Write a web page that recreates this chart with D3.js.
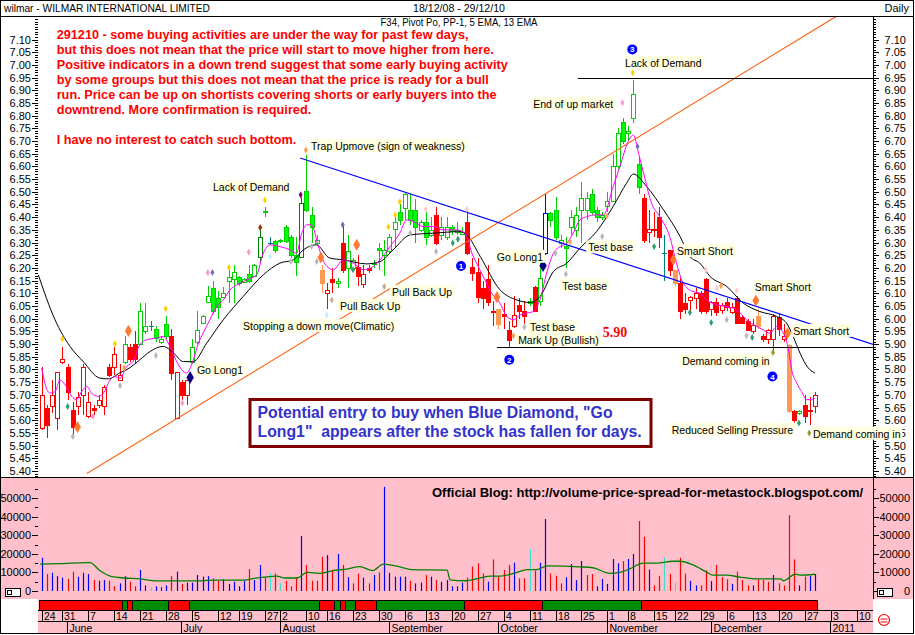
<!DOCTYPE html>
<html><head><meta charset="utf-8">
<script src="https://cdnjs.cloudflare.com/ajax/libs/d3/7.8.5/d3.min.js"></script>
<style>
body{margin:0;background:#fff;}
svg{display:block;font-family:"Liberation Sans",Arial,sans-serif;}
</style></head><body>
<svg id="chart" width="915" height="635"></svg>
<script>
// ================= DATA =================
const openP = [5.57,5.65,5.655,5.61,5.83,5.81,5.64,5.655,5.70,5.615,
5.65,5.66,5.655,5.81,5.81,5.76,5.83,5.89,5.90,5.90,
5.95,5.97,5.96,5.91,5.98,5.93,5.61,5.75,5.70,5.83,
5.91,5.985,6.065,6.12,6.08,6.085,6.15,6.155,6.165,6.145,
6.175,6.17,6.245,6.42,6.30,6.305,6.305,6.36,6.32,6.25,
6.245,6.505,6.41,6.30,6.19,6.10,6.155,6.14,6.30,6.20,
6.20,6.205,6.135,6.20,6.215,6.28,6.25,6.265,6.355,6.42,
6.435,6.43,6.43,6.35,6.38,6.33,6.41,6.33,6.32,6.36,
6.34,6.335,6.38,6.205,6.185,6.12,6.155,6.03,6.04,6.02,
5.955,5.97,6.055,6.03,6.06,6.125,6.07,6.26,6.415,6.43,
6.30,6.285,6.36,6.35,6.43,6.43,6.49,6.43,6.40,6.445,
6.465,6.60,6.775,6.73,6.79,6.61,6.475,6.34,6.355,6.40,
6.26,6.27,6.19,6.14,6.06,6.075,6.08,6.10,6.155,6.04,
6.065,6.035,6.065,6.025,6.08,6.005,5.99,5.95,6.01,5.93,
5.92,5.92,6.005,5.92,5.895,5.635,5.63,5.66,5.635,5.655];
const highP = [5.81,5.66,5.76,5.79,5.89,5.82,5.67,5.71,5.82,5.71,
5.66,5.70,5.74,5.82,5.89,5.82,5.93,5.90,5.95,6.06,
6.06,5.99,5.97,5.93,6.01,5.96,5.79,5.76,5.76,5.92,
6.03,6.015,6.13,6.15,6.11,6.125,6.19,6.21,6.17,6.16,
6.21,6.215,6.36,6.44,6.32,6.31,6.315,6.37,6.33,6.32,
6.48,6.645,6.44,6.33,6.21,6.14,6.20,6.16,6.37,6.33,
6.24,6.25,6.21,6.21,6.23,6.30,6.31,6.335,6.40,6.45,
6.50,6.49,6.47,6.39,6.42,6.40,6.44,6.40,6.40,6.37,
6.38,6.36,6.43,6.24,6.24,6.15,6.21,6.07,6.04,6.06,
5.99,6.09,6.08,6.07,6.08,6.13,6.22,6.49,6.42,6.48,
6.33,6.32,6.43,6.44,6.54,6.50,6.51,6.44,6.42,6.50,
6.65,6.75,6.79,6.76,6.94,6.64,6.49,6.43,6.42,6.44,
6.33,6.27,6.19,6.16,6.10,6.09,6.12,6.11,6.16,6.07,
6.08,6.06,6.08,6.06,6.09,6.01,6.00,6.00,6.04,5.94,
5.96,6.02,6.02,5.98,5.90,5.64,5.64,5.70,5.69,5.71];
const lowP = [5.56,5.53,5.63,5.56,5.82,5.68,5.53,5.62,5.62,5.61,
5.62,5.65,5.62,5.77,5.78,5.76,5.82,5.83,5.82,5.90,
5.94,5.95,5.91,5.90,5.92,5.76,5.61,5.66,5.66,5.82,
5.90,5.98,6.06,6.02,6.00,6.08,6.06,6.06,6.13,6.14,
6.14,6.165,6.22,6.40,6.29,6.26,6.30,6.30,6.24,6.17,
6.24,6.42,6.30,6.29,6.10,6.04,6.10,6.12,6.18,6.12,
6.19,6.13,6.12,6.18,6.20,6.19,6.17,6.26,6.28,6.37,
6.39,6.37,6.30,6.34,6.29,6.32,6.29,6.31,6.31,6.33,
6.33,6.33,6.25,6.15,6.06,6.04,6.05,5.97,5.96,5.96,
5.89,5.965,6.00,5.98,6.05,6.025,6.05,6.25,6.36,6.31,
6.28,6.20,6.33,6.32,6.30,6.39,6.41,6.38,6.39,6.42,
6.46,6.59,6.69,6.70,6.77,6.49,6.30,6.30,6.32,6.28,
6.15,6.17,6.13,6.00,6.02,6.02,6.04,6.02,6.02,6.01,
6.01,6.02,6.03,6.02,5.98,5.98,5.95,5.94,5.96,5.91,
5.90,5.86,5.93,5.91,5.63,5.59,5.62,5.59,5.58,5.63];
const closeP = [5.70,5.58,5.70,5.79,5.84,5.71,5.575,5.69,5.81,5.67,
5.64,5.68,5.73,5.78,5.86,5.78,5.90,5.84,5.84,6.03,
5.97,5.97,5.925,5.92,5.93,5.785,5.79,5.70,5.76,5.89,
5.955,6.01,6.09,6.03,6.045,6.10,6.165,6.185,6.14,6.155,
6.15,6.21,6.32,6.425,6.30,6.27,6.31,6.305,6.25,6.225,
6.455,6.43,6.36,6.31,6.14,6.115,6.145,6.15,6.19,6.265,
6.23,6.17,6.175,6.19,6.22,6.27,6.27,6.32,6.38,6.39,
6.49,6.39,6.36,6.38,6.32,6.35,6.30,6.36,6.36,6.345,
6.35,6.34,6.26,6.18,6.085,6.08,6.065,6.025,5.98,6.01,
5.915,6.015,6.03,6.01,6.07,6.03,6.16,6.415,6.39,6.32,
6.31,6.28,6.40,6.41,6.475,6.475,6.42,6.40,6.41,6.465,
6.60,6.73,6.70,6.74,6.885,6.52,6.31,6.355,6.35,6.32,
6.26,6.19,6.14,6.03,6.04,6.085,6.10,6.03,6.03,6.065,
6.025,6.055,6.045,6.045,5.985,5.985,5.955,5.975,5.97,5.92,
5.955,6.01,5.96,5.93,5.635,5.60,5.635,5.615,5.64,5.70];
// bar signal class: r=down(red) g=up(green) d=dark green o=orange b=blue c=teal doji
const barClass = ("rrrrrrrrrrrrrrrr" + "g" + "rr" + "gg" + "c" + "ggg" + "rrrr" +
  "ggggggggggggg" + "d" + "g" + "c" + "ggggg" + "d" + "ggg" + "o" + "rr" + "g" + "r" + "gg" + "rrr" +
  "gggggggggggg" + "r" + "ggggg" + "rrrrrr" + "o" + "rrrrr" + "g" + "r" + "g" + "b" +
  "gggggggggggggggggg" + "rrrr" + "c" + "r" + "o" + "rrrrrrrrrrrrrrr" + "o" + "rrrrr" + "o" + "r" + "g" + "rrr").split("");

const volume = [17900,9100,9800,8000,7200,6500,10400,7700,9800,9100,
5900,5500,5900,5500,2500,4100,8000,5000,2500,11300,
3000,2000,2500,2000,3000,8000,10400,3800,4500,4500,
8600,7700,8000,6800,5500,6300,3800,5000,2500,5500,
11800,5900,14000,7400,9700,9400,4100,5500,2500,7400,
29600,14000,5500,5500,18400,19300,11300,19900,14000,7400,
4100,9400,7200,4100,8600,10000,56000,9800,7700,7700,
7700,5500,4100,4500,8600,7700,5900,5000,5900,2500,
2500,4500,7200,13100,14900,9400,5000,17000,7700,11300,
14000,15200,6800,6800,22600,11000,15200,38700,9400,8200,
4100,7400,14500,5900,16100,8600,9100,2500,6500,3800,
17200,14900,16100,17200,19900,37600,29200,11500,3000,8000,
18100,9100,4500,17900,9400,5500,3000,3000,11000,5300,
14000,7400,6300,3800,10400,5900,3000,3000,6300,5900,
5000,8600,4100,3000,40800,17000,3000,7700,8000,9100];
const volClass = ("brbbbrrbbb"+"rbbrrbbrrb"+"bcbbbrbrbb"+"bbbrrbbbbb"+"rbbrcrcrrr"+
  "brrrrbrbrb"+"rrbrbrbbbb"+"brbbrbrbbb"+"bbrrrrbrrr"+"rbrrcrbbrr"+
  "rbbbbrrbbb"+"bbrbbrrbrr"+"crcrrbbrrb"+"rrrbrrrbrr"+"rbrrrrbrbb").split("");

// moving averages: [day index, value]
const ema5 = [[0,5.806],[0.6,5.746],[1.6,5.707],[2.6,5.713],[3.5,5.759],[4.5,5.740],[5.8,5.694],[6.7,5.681],[7.7,5.713],[8.7,5.733],[9.6,5.707],[10.9,5.694],[11.9,5.707],[13.2,5.759],[14.1,5.772],[15.1,5.766],[16.4,5.812],[17.6,5.831],[18.9,5.897],[20.2,5.917],[22.2,5.924],[23.4,5.930],[24.7,5.891],[26.0,5.831],[27.0,5.799],[27.9,5.786],[29.1,5.831],[30.2,5.904],[31.1,5.943],[32.4,5.996],[33.7,6.048],[35.0,6.074],[36.3,6.114],[37.6,6.133],[39.5,6.153],[41.4,6.173],[42.7,6.258],[44.0,6.291],[45.9,6.284],[47.9,6.271],[49.1,6.258],[50.1,6.337],[51.1,6.37],[52.0,6.37],[53.3,6.285],[54.6,6.215],[56.2,6.193],[58.1,6.232],[60.0,6.219],[62.0,6.193],[63.3,6.199],[65.2,6.232],[67.1,6.284],[69.0,6.337],[70.3,6.389],[71.6,6.383],[73.5,6.363],[75.5,6.363],[77.4,6.350],[80.0,6.350],[81.6,6.337],[82.9,6.258],[84.1,6.206],[85.4,6.153],[86.7,6.101],[88.3,6.061],[89.6,6.009],[90.9,5.996],[92.2,6.015],[93.4,6.022],[94.7,6.028],[96.0,6.074],[97.3,6.180],[98.6,6.258],[99.9,6.284],[101.2,6.298],[102.4,6.337],[103.7,6.389],[105.0,6.402],[106.9,6.409],[108.2,6.409],[110.1,6.520],[111.4,6.599],[113.0,6.698],[114.0,6.724],[115.0,6.652],[116.2,6.554],[117.5,6.455],[119.1,6.402],[121.0,6.324],[122.3,6.22],[123.6,6.140],[125.5,6.107],[126.8,6.101],[128.1,6.074],[130.1,6.055],[132.0,6.048],[133.9,6.035],[135.8,5.996],[137.8,5.969],[139.0,5.956],[140.3,5.943],[141.6,5.969],[142.9,5.943],[143.9,5.878],[144.5,5.799],[145.5,5.746],[146.4,5.713],[147.4,5.681],[148.4,5.681],[149.0,5.687]];
const ema13 = [[-0.65,6.173],[2.56,5.996],[5.45,5.891],[8.0,5.831],[11.2,5.766],[12.8,5.763],[15.1,5.787],[17.0,5.807],[18.9,5.838],[20.9,5.871],[23.4,5.891],[25.4,5.865],[27.3,5.831],[29.2,5.831],[31.8,5.904],[35.0,5.996],[38.8,6.087],[42.7,6.173],[45.9,6.219],[48.5,6.232],[50.4,6.271],[52.9,6.291],[55.5,6.239],[58.1,6.232],[62.6,6.216],[65.2,6.225],[67.7,6.271],[71.0,6.330],[75.5,6.337],[80.6,6.343],[81.9,6.330],[84.5,6.245],[88.3,6.114],[91.5,6.074],[94.1,6.064],[96.0,6.087],[98.6,6.186],[101.2,6.219],[103.7,6.278],[106.9,6.343],[110.1,6.442],[112.7,6.534],[114.0,6.570],[116.6,6.520],[119.8,6.429],[123.0,6.324],[124.9,6.245],[126.8,6.219],[128.8,6.166],[132.0,6.127],[135.2,6.061],[138.4,6.028],[141.6,6.009],[143.5,5.983],[144.8,5.930],[146.1,5.865],[147.7,5.806],[149.0,5.786]];
const volMA = [[-0.3,14500],[3.5,14700],[8.7,15300],[9.3,15300],[11.2,11000],[13.5,7700],[16.0,7000],[18.9,6500],[22.2,5400],[25.3,5400],[29.2,5400],[33.4,5800],[38.8,5800],[41.5,7000],[45.3,8000],[46.9,7000],[49.2,7000],[51.1,10000],[53.6,9500],[56.1,11000],[58.8,11800],[61.3,13100],[63.8,11000],[65.8,14500],[69.0,13000],[71.5,11500],[78.1,11200],[78.7,6000],[81.6,5500],[84.5,7000],[86.4,8000],[88.3,8000],[91.6,10000],[93.5,11500],[95.4,11500],[97.4,13500],[103.7,13000],[106.2,12500],[109.5,9500],[111.4,10000],[113.4,12000],[115.9,15000],[118.6,15000],[121.6,16000],[123.0,16000],[125.5,14000],[128.2,10000],[129.3,8500],[132.0,8500],[134.5,7500],[137.8,6500],[142.3,6500],[142.9,5500],[145.2,9000],[146.1,8500],[149.0,9000]];

// trend lines [day index, price]
const trendUp = [[8.7,5.39],[153.0,7.19]];
const trendDown = [[49.8,6.633],[160.2,5.899]];
const levelLines = [[103.3,6.95],[87.7,5.89]];

// trend strip segments [startIndex, endIndex, class]
const stripSeg = [[0,16,"r"],[16,17,"g"],[17,18,"r"],[18,25,"g"],[25,29,"r"],[29,54,"g"],[54,57,"r"],[57,58,"g"],[58,59,"r"],[59,61,"g"],[61,65,"r"],[65,82,"g"],[82,97,"r"],[97,116,"g"],[116,150,"r"]];

// date axis
const weekLabels = ["24","31","7","14","21","28","5","12","19","27","2","10","16","23","30","6","13","20","27","4","11","18","25","1","8","15","22","29","6","13","20","27","3","10"];
const weekIdx = [0,4,9,14,19,24,29,34,38,43,46,51,55,60,65,70,74,79,84,89,94,99,104,109,113,118,122,127,132,137,142,147,152,157];
const monthLabels = ["June","July","August","September","October","November","December","2011"];
const monthIdx = [5,27,46,67,88,109,129,152];

// annotations [text, left day index, centre price]
const tags = [["Lack of Demand",33.0,6.517],["Trap Upmove (sign of weakness)",51.9,6.68],["Go Long1",29.9,5.799],["Stopping a down move(Climatic)",38.8,5.972],["Pull Back Up",57.5,6.05],["Pull Back Up",67.5,6.106],["Go Long1",87.7,6.244],["Test base",100.3,6.13],["Test base",94.1,5.968],["Mark Up (Bullish)",91.8,5.917],["Test base",105.3,6.281],["End of up market",94.7,6.846],["Lack of Demand",112.4,7.007],["Smart Short",122.4,6.267],["Smart Short",137.4,6.126],["Smart Short",144.8,5.952],["Demand coming in",123.4,5.834],["Reduced Selling Pressure",121.4,5.563],["Demand coming in",148.6,5.547]];
const numberedMarks = [[80.8,6.208,"1"],[90.1,5.838,"2"],[113.8,7.061,"3"],[140.8,5.772,"4"]];
const goLongDiamonds = [[28.6,5.768],[96.6,6.209]];
const signals = [[4.0,5.921,"Y"],[5.0,5.654,"N"],[6.9,5.573,"O"],[6.0,5.536,"G"],[9.9,5.615,"P"],[15.1,5.737,"G"],[15.9,5.806,"o"],[16.7,5.952,"O"],[14.1,5.901,"Y"],[22.0,5.855,"G"],[23.9,6.039,"Y"],[27.1,5.668,"P"],[32.0,6.182,"P"],[32.9,6.182,"S"],[36.1,6.202,"Y"],[39.9,6.262,"P"],[44.0,6.245,"L"],[42.1,6.359,"B"],[43.0,6.468,"Y"],[48.0,6.225,"G"],[49.9,6.488,"U"],[52.0,6.284,"G"],[53.0,6.225,"G"],[53.8,6.241,"O"],[54.9,6.015,"L"],[50.9,6.665,"o"],[55.9,6.074,"T"],[58.0,6.370,"S"],[60.7,6.291,"O"],[60.0,6.193,"N"],[66.0,6.127,"T"],[66.8,6.361,"Y"],[68.1,6.409,"Y"],[69.0,6.461,"Y"],[71.0,6.337,"G"],[74.0,6.431,"K"],[76.0,6.265,"G"],[79.2,6.298,"N"],[80.2,6.313,"N"],[81.9,6.431,"K"],[87.7,6.085,"O"],[90.9,5.933,"o"],[93.0,5.967,"G"],[99.0,6.258,"G"],[101.8,6.303,"o"],[101.0,6.176,"G"],[113.9,6.969,"Y"],[111.9,6.851,"P"],[114.8,6.678,"S"],[108.9,6.405,"o"],[108.0,6.324,"G"],[118.0,6.284,"N"],[121.7,6.232,"O"],[128.0,6.193,"K"],[124.9,6.024,"N"],[130.9,6.130,"o"],[130.1,6.120,"K"],[133.9,6.111,"K"],[129.0,5.985,"N"],[132.0,5.996,"G"],[137.6,6.072,"O"],[135.8,5.933,"G"],[136.9,5.926,"N"],[140.9,5.867,"V"],[143.7,5.943,"O"],[145.9,5.589,"N"],[147.9,5.550,"V"]];

const notes = ["291210 - some buying activities are under the way for past few days,",
"but this does not mean that the price will start to move higher from here.",
"Positive indicators in a down trend suggest that some early buying activity",
"by some groups but this does not mean that the price is ready for a bull",
"run. Price can be up on shortists covering shorts or early buyers into the",
"downtrend. More confirmation is required.",
"",
"I have no interest to catch such bottom."];
const boxLines = ["Potential entry to buy when Blue Diamond, \"Go", "Long1\"  appears after the stock has fallen for days."];
const titleLeft = "wilmar - WILMAR INTERNATIONAL LIMITED";
const titleMid = "18/12/08 - 29/12/10";
const titleRight = "Daily";
const subTitle = "F34, Pivot Po, PP-1, 5 EMA, 13 EMA";
const blogText = "Official Blog: http://volume-price-spread-for-metastock.blogspot.com/";
const supportLabel = "5.90";
const volTicks = [0,10000,20000,30000,40000,50000];

// ================= DRAW =================
const svg = d3.select("#chart");
const L = 38, R = 873, PT = 17, PB = 477, VB = 599;
const x = d3.scaleLinear().domain([0,149]).range([41.7,815]);
const yP = d3.scaleLinear().domain([5.40,7.10]).range([471,39.5]);
const yV = d3.scaleLinear().domain([0,50000]).range([591,498]);

svg.append("rect").attr("width",915).attr("height",635).attr("fill","#fff");
svg.append("rect").attr("x",1).attr("y",PB).attr("width",912).attr("height",VB-PB).attr("fill","#FFC0CB");
svg.append("rect").attr("x",L).attr("y",VB).attr("width",R-L).attr("height",634-VB).attr("fill","#FFC0CB");

const defs = svg.append("defs");
defs.append("clipPath").attr("id","cp").append("rect").attr("x",L).attr("y",PT).attr("width",R-L).attr("height",PB-PT);
defs.append("clipPath").attr("id","cv").append("rect").attr("x",L).attr("y",PB).attr("width",R-L).attr("height",VB-PB);

// header
const hdr = svg.append("g").attr("font-size",11).attr("fill","#000");
hdr.append("text").attr("x",4).attr("y",12).attr("textLength",206).attr("lengthAdjust","spacingAndGlyphs").text(titleLeft);
hdr.append("text").attr("x",459).attr("y",12).attr("text-anchor","middle").attr("textLength",92).attr("lengthAdjust","spacingAndGlyphs").text(titleMid);
hdr.append("text").attr("x",909).attr("y",12).attr("text-anchor","end").text(titleRight);
svg.append("line").attr("x1",0).attr("x2",914).attr("y1",16.5).attr("y2",16.5).attr("stroke","#000");
svg.append("text").attr("x",459).attr("y",26).attr("text-anchor","middle").attr("font-size",10.5).attr("textLength",157).attr("lengthAdjust","spacingAndGlyphs").text(subTitle);

// ---- price axes ----
const majorP = d3.range(0,35).map(k => +(5.40 + k*0.05).toFixed(2));
const minorP = d3.range(0,181).map(k => +(5.38 + k*0.01).toFixed(2)).filter(v => yP(v) > PT && yP(v) < PB);
function ticksAt(g, vals, scale, x0, len, dir) {
  g.selectAll(null).data(vals).enter().append("line")
    .attr("x1", x0).attr("x2", x0 + dir*len)
    .attr("y1", d => Math.round(scale(d)) + 0.5).attr("y2", d => Math.round(scale(d)) + 0.5)
    .attr("stroke","#000").attr("stroke-width",1);
}
const ax = svg.append("g");
ticksAt(ax, minorP, yP, L, 3, -1);
ticksAt(ax, majorP, yP, L, 6, -1);
ticksAt(ax, minorP, yP, R, 3, 1);
ticksAt(ax, majorP, yP, R, 6, 1);
ax.selectAll(null).data(majorP).enter().append("text")
  .attr("x",31).attr("y",d=>yP(d)+4).attr("text-anchor","end").attr("font-size",11).text(d=>d3.format(".2f")(d));
ax.selectAll(null).data(majorP).enter().append("text")
  .attr("x",906).attr("y",d=>yP(d)+4).attr("text-anchor","end").attr("font-size",11).text(d=>d3.format(".2f")(d));
svg.append("line").attr("x1",R+0.5).attr("x2",R+0.5).attr("y1",PT).attr("y2",VB).attr("stroke","#000");

// ---- price panel content ----
const pp = svg.append("g").attr("clip-path","url(#cp)");
const candleCol = {g:["#00FF00","#00D000"], d:["#008000","#008000"], r:["#FF0000","#FF0000"], o:["#FF9A55","#FF9A55"], b:["#0000FF","#0000FF"], c:["#008080","#008080"]};
const idx = d3.range(openP.length);
const cg = pp.append("g").attr("shape-rendering","crispEdges");
idx.forEach(i => {
  const cx = Math.round(x(i)) + 0.5;
  const col = candleCol[barClass[i]];
  cg.append("line").attr("x1",cx).attr("x2",cx).attr("y1",yP(highP[i])).attr("y2",yP(lowP[i])).attr("stroke",col[1]);
  const top = Math.round(yP(Math.max(openP[i],closeP[i])));
  const bot = Math.round(yP(Math.min(openP[i],closeP[i])));
  const h = Math.max(1, bot - top);
  if (barClass[i] === "c") {
    cg.append("line").attr("x1",cx-2.5).attr("x2",cx+2.5).attr("y1",top+0.5).attr("y2",top+0.5).attr("stroke",col[1]);
  } else {
    const hollow = closeP[i] >= openP[i];
    cg.append("rect").attr("x",cx-2).attr("y",top+0.5).attr("width",4).attr("height",h)
      .attr("fill", hollow ? "#fff" : col[0]).attr("stroke", col[1]);
  }
});

const lineP = d3.line().x(d=>x(d[0])).y(d=>yP(d[1]));
pp.append("path").attr("d",lineP.curve(d3.curveMonotoneX)(ema13)).attr("fill","none").attr("stroke","#000").attr("stroke-width",1);
pp.append("path").attr("d",lineP.curve(d3.curveMonotoneX)(ema5)).attr("fill","none").attr("stroke","#FF00FF").attr("stroke-width",1);
const straight = d3.line().x(d=>x(d[0])).y(d=>yP(d[1]));
pp.append("path").attr("d",straight(trendUp)).attr("stroke","#FF6010").attr("stroke-width",1.1).attr("fill","none");
pp.append("path").attr("d",straight(trendDown)).attr("stroke","#0000FF").attr("stroke-width",1.2).attr("fill","none");
levelLines.forEach(l => {
  pp.append("line").attr("x1",x(l[0])).attr("x2",R).attr("y1",Math.round(yP(l[1]))+0.5).attr("y2",Math.round(yP(l[1]))+0.5).attr("stroke","#000").attr("stroke-width",1.2);
});

const sigCol = {Y:"#FFD000",N:"#2E9E6E",O:"#FF7A30",G:"#B8B8B8",P:"#FF99CC",o:"#FFA050",S:"#7070C0",L:"#C0F0FF",B:"#A03000",U:"#800080",T:"#D0AA88",K:"#FFCCCC",V:"#999933"};
pp.selectAll(null).data(signals).enter().append("path")
  .attr("transform",d=>`translate(${x(d[0])},${yP(d[1])})`)
  .attr("d",d=>d3.symbol().type(d3.symbolDiamond).size(d[2]==="O"?42:14)())
  .attr("fill",d=>sigCol[d[2]]);
pp.selectAll(null).data(goLongDiamonds).enter().append("path")
  .attr("transform",d=>`translate(${x(d[0])},${yP(d[1])})`)
  .attr("d",d3.symbol().type(d3.symbolDiamond).size(48)()).attr("fill","#000080");
const nm = pp.selectAll(null).data(numberedMarks).enter().append("g")
  .attr("transform",d=>`translate(${x(d[0])},${yP(d[1])})`);
nm.append("circle").attr("r",5).attr("fill","#0000FF");
nm.append("text").attr("y",3).attr("text-anchor","middle").attr("font-size",8).attr("font-weight","bold").attr("fill","#fff").text(d=>d[2]);

// support label
svg.append("text").attr("x",x(108.1)).attr("y",yP(5.89)-9.5).attr("font-family","'Liberation Serif',serif")
  .attr("font-weight","bold").attr("font-size",14).attr("fill","#FF0000").text(supportLabel);

// notes
const ng = svg.append("g").attr("font-weight","bold").attr("font-size",12.7).attr("fill","#FF0000");
notes.forEach((t,k) => { if (t) ng.append("text").attr("x",56.7).attr("y",38.8 + 15*k).text(t); });

// info box
svg.append("rect").attr("x",250).attr("y",399.5).attr("width",401).attr("height",47).attr("fill","#fff").attr("stroke","#800000").attr("stroke-width",3);
boxLines.forEach((t,k) => svg.append("text").attr("x",257.5).attr("y",417.5 + 19.3*k).attr("font-size",15.8).attr("font-weight","bold")
  .attr("fill","#3333CC").style("white-space","pre").text(t));

// tags
const tg = svg.append("g").attr("font-size",10.5);
tags.forEach(t => {
  const tx = x(t[1]), ty = yP(t[2]);
  const bg = tg.append("rect").attr("fill","#FFFFE1");
  const tt = tg.append("text").attr("x",tx).attr("y",ty+4).attr("fill","#000").text(t[0]);
  const w = tt.node().getComputedTextLength();
  bg.attr("x",tx-2).attr("y",ty-7).attr("width",w+4).attr("height",13);
});

// ---- volume panel ----
svg.append("line").attr("x1",0).attr("x2",914).attr("y1",PB+0.5).attr("y2",PB+0.5).attr("stroke","#000");
const vp = svg.append("g").attr("clip-path","url(#cv)");
const vCol = {r:"#FF0000", b:"#0000FF", c:"#40E0D0"};
vp.selectAll(null).data(idx).enter().append("line")
  .attr("x1",i=>Math.round(x(i))+0.5).attr("x2",i=>Math.round(x(i))+0.5)
  .attr("y1",yV(0)).attr("y2",i=>yV(volume[i])).attr("stroke",i=>vCol[volClass[i]]).attr("stroke-width",1.2);
vp.append("path").attr("d",d3.line().x(d=>x(d[0])).y(d=>yV(d[1])).curve(d3.curveMonotoneX)(volMA))
  .attr("fill","none").attr("stroke","#008000").attr("stroke-width",1.3);
const vMinor = [5000,15000,25000,35000,45000,55000];
ticksAt(ax, volTicks, yV, L, 6, -1);
ticksAt(ax, vMinor, yV, L, 3, -1);
ticksAt(ax, volTicks, yV, R, 6, 1);
ticksAt(ax, vMinor, yV, R, 3, 1);
ax.selectAll(null).data(volTicks).enter().append("text").attr("x",31).attr("y",d=>yV(d)+4).attr("text-anchor","end").attr("font-size",11).text(d=>d);
ax.selectAll(null).data(volTicks).enter().append("text").attr("x",910).attr("y",d=>yV(d)+4).attr("text-anchor","end").attr("font-size",11).text(d=>d);
svg.append("text").attr("x",432).attr("y",497).attr("font-size",13).attr("font-weight","bold").attr("fill","#000").text(blogText);
// scroll icons
[[5,588],[877,588]].forEach(p => {
  const g = svg.append("g").attr("transform",`translate(${p[0]},${p[1]})`);
  g.append("rect").attr("x",0.5).attr("y",0.5).attr("width",15).attr("height",8).attr("fill","#fff").attr("stroke","#000");
  g.append("rect").attr("x",2.5).attr("y",2.5).attr("width",4).attr("height",4).attr("fill","none").attr("stroke","#000");
});

// ---- date strip ----
const stripCol = {r:"#FF0000", g:"#008C00"};
const sg = svg.append("g").attr("shape-rendering","crispEdges");
stripSeg.forEach(s => {
  sg.append("rect").attr("x",x(s[0])-2.6).attr("y",600.5).attr("width",x(s[1])-x(s[0])).attr("height",10)
    .attr("fill",stripCol[s[2]]).attr("stroke","#000");
});
sg.append("line").attr("x1",L).attr("x2",R).attr("y1",610.5).attr("y2",610.5).attr("stroke","#000");
sg.append("line").attr("x1",L).attr("x2",R).attr("y1",621.5).attr("y2",621.5).attr("stroke","#000");
weekIdx.forEach((d,k) => {
  const px = Math.round(x(d))+0.5;
  sg.append("line").attr("x1",px).attr("x2",px).attr("y1",611).attr("y2",621).attr("stroke","#000");
  svg.append("text").attr("x",px+1.5).attr("y",620).attr("font-size",10.5).attr("fill","#000").text(weekLabels[k]);
});
monthIdx.forEach((d,k) => {
  const px = Math.round(x(d)-0.5)+0.5;
  sg.append("line").attr("x1",px).attr("x2",px).attr("y1",622).attr("y2",633).attr("stroke","#000");
  svg.append("text").attr("x",px+2).attr("y",631.5).attr("font-size",10.5).attr("fill","#000").text(monthLabels[k]);
});
svg.append("line").attr("x1",0).attr("x2",914).attr("y1",633.5).attr("y2",633.5).attr("stroke","#000");
// red icon
svg.append("circle").attr("cx",884).attr("cy",620).attr("r",5.5).attr("fill","none").attr("stroke","#FF0000").attr("stroke-width",1.2);
svg.append("path").attr("d","M880.5,619 h7 M880.5,622 h7").attr("stroke","#FF0000").attr("stroke-width",1);

// outer frame
svg.append("rect").attr("x",0.5).attr("y",0.5).attr("width",913).attr("height",633).attr("fill","none").attr("stroke","#000");
</script>
</body></html>
